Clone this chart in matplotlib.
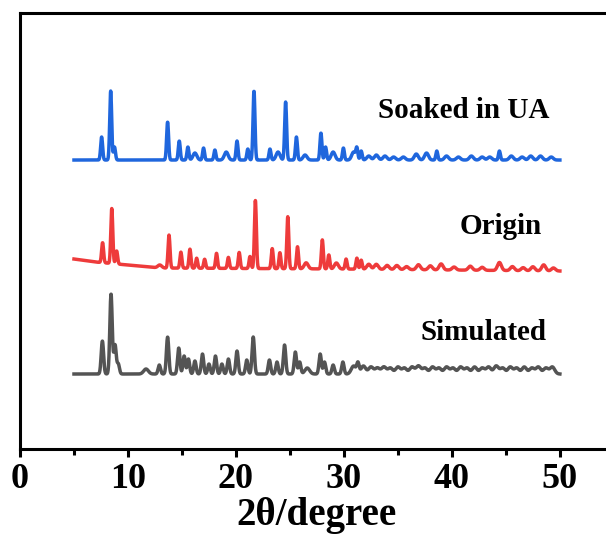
import numpy as np
import matplotlib
matplotlib.use("Agg")
import matplotlib.pyplot as plt
from matplotlib.ticker import MultipleLocator

# peak tables: 2theta position, height above background
ua_pos = [7.56, 8.4, 8.75, 13.67, 14.75, 15.55, 16.2, 17.0, 18.05, 19.1, 20.1, 21.1, 21.67,
          23.15, 23.9, 24.6, 25.6, 26.4, 27.87, 28.3, 29.0, 29.95, 30.9, 31.2, 31.6, 32.3,
          33.0, 33.8, 34.6, 35.5, 36.7, 37.65, 38.6, 39.5, 40.6, 41.8, 42.8, 43.5, 44.4,
          45.5, 46.5, 47.3, 48.2, 49.2]
ua_int = [23, 69, 13, 38, 19, 13, 7, 12, 10, 8, 19, 11, 69,
          11, 8, 58, 23, 5, 27, 13, 8, 12, 8, 11, 9, 4,
          5, 4, 3, 3, 6, 7, 9, 4, 3, 4, 3, 3, 9,
          4, 3, 4, 4, 3]
ua_bg_x = [5, 50]
ua_bg_y = [289, 289]

origin_pos = [7.65, 8.5, 8.95, 12.95, 13.8, 14.9, 15.74, 16.36, 17.1, 18.2, 19.3, 20.3, 21.3,
              21.8, 23.36, 24.07, 24.8, 25.7, 26.5, 28.0, 28.6, 29.3, 30.2, 31.2, 31.6, 32.3,
              33.0, 34.0, 34.9, 35.8, 36.9, 38.0, 39.0, 40.2, 41.7, 42.8, 44.4, 45.6, 46.6,
              47.5, 48.5, 49.4]
origin_int = [20, 55, 13, 3, 33, 16, 19, 10, 9, 15, 11, 16, 12,
              68, 20, 16, 52, 22, 6, 29, 14, 6, 10, 11, 9, 5,
              5, 4, 4, 3, 5, 4, 6, 3, 4, 3, 8, 4, 3,
              4, 6, 3]
origin_bg_x = [5, 7, 10, 13, 30, 50]
origin_bg_y = [190, 187, 184, 181, 180, 178]

sim_pos = [7.63, 8.43, 8.8, 9.1, 11.67, 12.9, 13.67, 14.7, 15.2, 15.6, 16.2, 16.9, 17.5,
           18.1, 18.7, 19.3, 20.1, 21.0, 21.6, 23.1, 23.8, 24.5, 25.5, 25.9, 26.6, 27.8,
           28.2, 29.0, 29.9, 30.9, 31.3, 31.8, 32.5, 33.1, 33.7, 34.3, 35.0, 35.6, 36.3,
           36.9, 37.5, 38.2, 38.8, 39.5, 40.1, 40.8, 41.4, 42.1, 42.8, 43.4, 44.1, 44.7,
           45.4, 46.0, 46.7, 47.4, 48.0, 48.7, 49.3]
sim_int = [33, 80, 29, 10, 5, 9, 37, 26, 18, 15, 13, 20, 10,
           18, 10, 15, 23, 14, 37, 14, 12, 29, 22, 12, 6, 20,
           12, 9, 12, 8, 10, 8, 7, 6, 7, 6, 7, 6, 7,
           8, 6, 7, 6, 7, 6, 7, 6, 7, 6, 7, 8, 6,
           7, 6, 7, 6, 7, 6, 7]
sim_bg_x = [5, 50]
sim_bg_y = [75, 75]

labels = ["Soaked in UA", "Origin", "Simulated"]
colors = ["#1f66dd", "#ee3b3b", "#545454"]


def pattern(tt, pos, inten, bg_x, bg_y, sigma):
  y = np.interp(tt, bg_x, bg_y).astype(float)
  for p, h in zip(pos, inten):
    # weak reflections come out broader than the strong ones
    s = sigma * 2 if h <= 8 else sigma
    y += h * np.exp(-0.5 * ((tt - p) / s) ** 2)
  return y


plt.rcParams["font.family"] = ["Liberation Serif", "DejaVu Serif"]
plt.rcParams["font.weight"] = "bold"

fig = plt.figure(figsize=(6.06, 5.36), dpi=100)
ax = fig.add_axes([0.033, 0.1623, 0.98, 0.8134])

tt = np.arange(5, 50.001, 0.02)
traces = [
  pattern(tt, ua_pos, ua_int, ua_bg_x, ua_bg_y, 0.09),
  pattern(tt, origin_pos, origin_int, origin_bg_x, origin_bg_y, 0.09),
  pattern(tt, sim_pos, sim_int, sim_bg_x, sim_bg_y, 0.11),
]
for y, c in zip(traces, colors):
  ax.plot(tt, y, color=c, lw=2.5, solid_joinstyle="round")

text_xy = [(41.1, 339), (44.5, 223), (42.9, 117)]
for (tx, ty), lab in zip(text_xy, labels):
  ax.text(tx, ty, lab, ha="center", va="center", fontsize=21, fontweight="bold")

ax.set_xlim(0, 55)
ax.set_ylim(0, 436)
ax.set_yticks([])
ax.xaxis.set_major_locator(MultipleLocator(10))
ax.xaxis.set_minor_locator(MultipleLocator(5))
ax.tick_params(axis="x", which="major", direction="out", length=6, width=2.2,
               labelsize=26, pad=4)
ax.tick_params(axis="x", which="minor", direction="out", length=4, width=2.2)
for s in ax.spines.values():
  s.set_linewidth(2.2)
ax.set_xlabel("2θ/degree", fontsize=28, fontweight="bold", labelpad=0.5)

fig.savefig("out.png", dpi=100)
